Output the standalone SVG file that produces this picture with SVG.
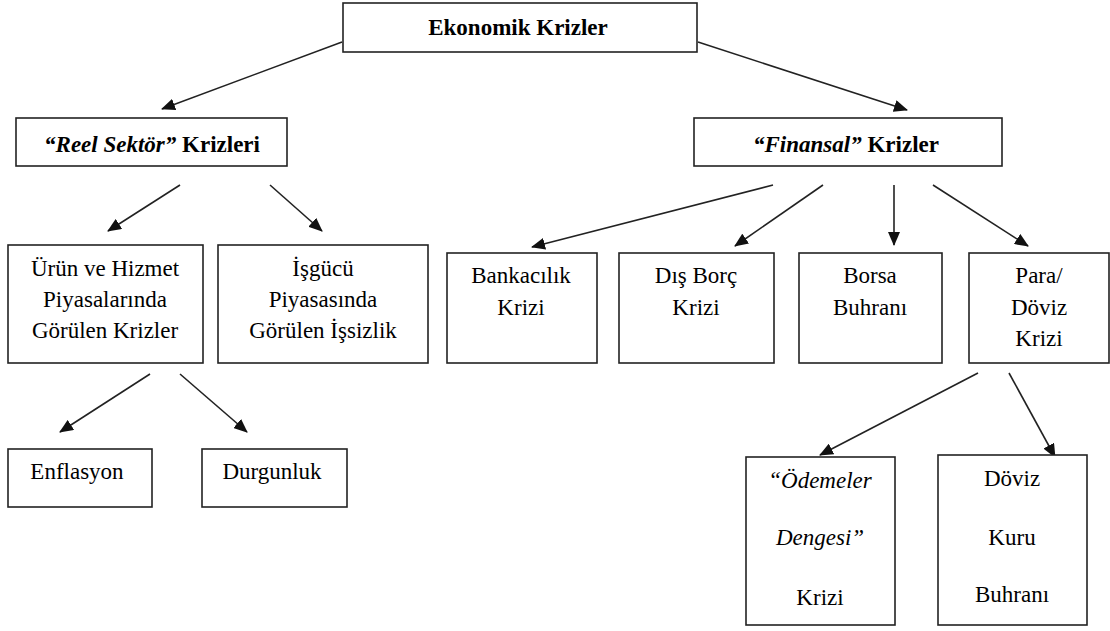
<svg xmlns="http://www.w3.org/2000/svg" width="1110" height="631" viewBox="0 0 1110 631">
<style>
.box{fill:#fff;stroke:#222;stroke-width:1.6}
text{font-family:"Liberation Serif","Times New Roman",serif;font-size:23px;fill:#000;text-anchor:middle}
.b{font-weight:bold}
.i{font-style:italic}
.c line{stroke:#222;stroke-width:1.6;marker-end:url(#ah)}
</style>
<defs>
<marker id="ah" markerUnits="userSpaceOnUse" markerWidth="14" markerHeight="12" refX="13" refY="6" orient="auto">
<path d="M0,0 L14,6 L0,12 z" fill="#111"/>
</marker>
</defs>
<rect width="1110" height="631" fill="#fff"/>
<g class="c" id="connectors">
<line x1="342" y1="42" x2="162" y2="109"/>
<line x1="698" y1="42" x2="907" y2="110"/>
<line x1="180" y1="185" x2="108" y2="231"/>
<line x1="270" y1="185" x2="322" y2="231"/>
<line x1="773" y1="185" x2="532" y2="247"/>
<line x1="823" y1="185" x2="735" y2="246"/>
<line x1="894" y1="185" x2="894" y2="245"/>
<line x1="933" y1="185" x2="1028" y2="246"/>
<line x1="150" y1="374" x2="60" y2="432"/>
<line x1="180" y1="374" x2="247" y2="432"/>
<line x1="978" y1="373" x2="820" y2="455"/>
<line x1="1009" y1="373" x2="1055" y2="457"/>
</g>
<g id="ekonomik">
<rect class="box" x="343" y="3" width="354" height="49"/>
<text class="b" x="518" y="35">Ekonomik Krizler</text>
</g>
<g id="reel">
<rect class="box" x="16" y="118" width="271" height="48"/>
<text class="b" x="152" y="152"><tspan class="i">“Reel Sektör”</tspan> Krizleri</text>
</g>
<g id="finansal">
<rect class="box" x="694" y="118" width="308" height="48"/>
<text class="b" x="846" y="152"><tspan class="i">“Finansal”</tspan> Krizler</text>
</g>
<g id="urun">
<rect class="box" x="8" y="245" width="195" height="118"/>
<text x="105" y="276">Ürün ve Hizmet</text>
<text x="105" y="307">Piyasalarında</text>
<text x="105" y="338">Görülen Krizler</text>
</g>
<g id="isgucu">
<rect class="box" x="218" y="245" width="210" height="118"/>
<text x="323" y="276">İşgücü</text>
<text x="323" y="307">Piyasasında</text>
<text x="323" y="338">Görülen İşsizlik</text>
</g>
<g id="bankacilik">
<rect class="box" x="447" y="253" width="150" height="110"/>
<text x="521" y="283">Bankacılık</text>
<text x="521" y="315">Krizi</text>
</g>
<g id="disborc">
<rect class="box" x="619" y="253" width="155" height="110"/>
<text x="696" y="283">Dış Borç</text>
<text x="696" y="315">Krizi</text>
</g>
<g id="borsa">
<rect class="box" x="799" y="253" width="143" height="110"/>
<text x="870" y="283">Borsa</text>
<text x="870" y="315">Buhranı</text>
</g>
<g id="para">
<rect class="box" x="969" y="253" width="140" height="110"/>
<text x="1039" y="283">Para/</text>
<text x="1039" y="315">Döviz</text>
<text x="1039" y="346">Krizi</text>
</g>
<g id="enflasyon">
<rect class="box" x="8" y="449" width="144" height="58"/>
<text x="77" y="479">Enflasyon</text>
</g>
<g id="durgunluk">
<rect class="box" x="202" y="449" width="145" height="58"/>
<text x="272" y="479">Durgunluk</text>
</g>
<g id="odemeler">
<rect class="box" x="746" y="457" width="149" height="168"/>
<text class="i" x="820" y="488">“Ödemeler</text>
<text class="i" x="820" y="545">Dengesi”</text>
<text x="820" y="605">Krizi</text>
</g>
<g id="dovizkuru">
<rect class="box" x="938" y="455" width="149" height="170"/>
<text x="1012" y="486">Döviz</text>
<text x="1012" y="545">Kuru</text>
<text x="1012" y="602">Buhranı</text>
</g>
</svg>
